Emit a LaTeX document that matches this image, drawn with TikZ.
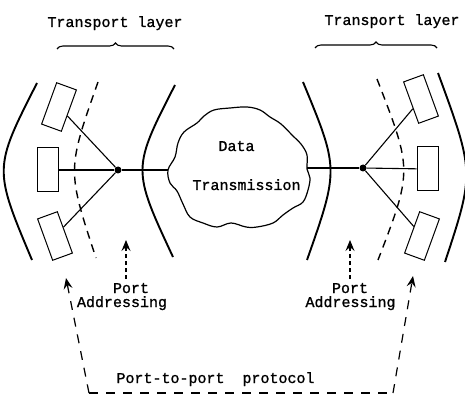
\documentclass[tikz,border=0pt]{standalone}
\usepackage{fontspec}
\setmonofont[FakeBold=1.2]{Liberation Mono}
\usetikzlibrary{arrows.meta,decorations.pathreplacing}

\begin{document}
\begin{tikzpicture}[x=1pt,y=-1pt,
  font=\ttfamily\fontsize{15}{15}\selectfont,
  term/.style={draw,line width=1pt,minimum width=21pt,minimum height=44pt,inner sep=0pt},
  hub/.style={circle,fill,inner sep=0pt,minimum size=7pt},
  lbl/.style={anchor=base,inner sep=0pt},
  wall/.style={line width=1.9pt},
  cut/.style={line width=1.4pt,dash pattern=on 8pt off 6pt},
  wire/.style={line width=1.1pt},
  aim/.style={->,line width=1.1pt,dash pattern=on 4pt off 3pt},
  proto/.style={line width=1.2pt,dash pattern=on 9pt off 8pt},
  >={Stealth[length=11pt,width=9pt,inset=4pt]}]
  \useasboundingbox (0,0) rectangle (465,395);

  % layer titles and braces
  \node[lbl] (tlL) at (115,27) {Transport layer};
  \node[lbl] (tlR) at (392,25) {Transport layer};
  \draw[line width=1.1pt,decorate,decoration={brace,amplitude=6pt}] (57,49) -- (174,49);
  \draw[line width=1.1pt,decorate,decoration={brace,amplitude=6pt}] (315,48) -- (437,48);

  % walls of each host
  \draw[wall] (37,83) .. controls (-6.5,168.5) .. (32,260);
  \draw[wall] (175,85) .. controls (132,169) .. (173,257);
  \draw[cut]  (98,82) .. controls (67,170) .. (96,258);
  \draw[wall] (438,73) .. controls (474.5,172.5) .. (445,262);
  \draw[wall] (303,82) .. controls (339,169) .. (307,260);
  \draw[cut]  (377,79) .. controls (412.5,170.5) .. (378,260);

  % terminals
  \node[term,rotate=-20] (boxLt) at (59,107) {};
  \node[term] (boxLm) at (47.5,170) {};
  \node[term,rotate=20] (boxLb) at (55,236) {};
  \node[term,rotate=20] (boxRt) at (421,99) {};
  \node[term] (boxRm) at (427.5,169) {};
  \node[term,rotate=-20] (boxRb) at (422,236) {};
  \node[hub] (hubL) at (118,170) {};
  \node[hub] (hubR) at (363,168) {};

  % network cloud
  \draw[line width=1.2pt] plot[smooth cycle,tension=0.6] coordinates {
    (168,170) (175,157) (178,143) (184,132) (197,123) (204,116) (214,110)
    (230,108) (247,107) (260,110) (270,117) (281,124) (293,136) (301,144)
    (307,155) (307,169) (310,178) (308,190) (303,202) (293,208) (283,215)
    (273,223) (257,227) (246,227) (231,223) (217,227) (203,223) (190,217)
    (183,204) (177,191) (170,183)};
  \coordinate (cloudW) at (168,170);
  \coordinate (cloudE) at (307,168);
  \node[lbl] (data) at (236.5,151) {Data};
  \node[lbl] (trans) at (246.5,190) {Transmission};

  \draw[wire] (boxLt) -- (hubL);
  \draw[wire] (boxLm) -- (hubL);
  \draw[wire] (boxLb) -- (hubL);
  \draw[wire] (hubL) -- (cloudW);
  \draw[wire] (cloudE) -- (hubR);
  \draw[wire] (hubR) -- (boxRt);
  \draw[wire] (hubR) -- (boxRm);
  \draw[wire] (hubR) -- (boxRb);

  % port addressing
  \node[lbl] (portL) at (131,293) {Port};
  \node[lbl] (addrL) at (122,307) {Addressing};
  \node[lbl] (portR) at (350,293) {Port};
  \node[lbl] (addrR) at (350.5,307) {Addressing};
  \coordinate (aimL) at (126,240);
  \coordinate (aimR) at (350,240);
  \draw[aim] (aimL |- 0,279) -- (aimL);
  \draw[aim] (aimR |- 0,279) -- (aimR);

  % port-to-port protocol
  \coordinate (tipL) at (66,278);
  \coordinate (tipR) at (413,276);
  \coordinate (pbL) at (89,393);
  \coordinate (pbR) at (393,393);
  \draw[proto,<-] (tipL) -- (pbL);
  \draw[proto,line width=2.4pt] (pbL) -- (pbR);
  \draw[proto,->] (pbR) -- (tipR);
  \node[lbl] (proto) at (215.5,383) {Port-to-port\ \ protocol};
\end{tikzpicture}
\end{document}
